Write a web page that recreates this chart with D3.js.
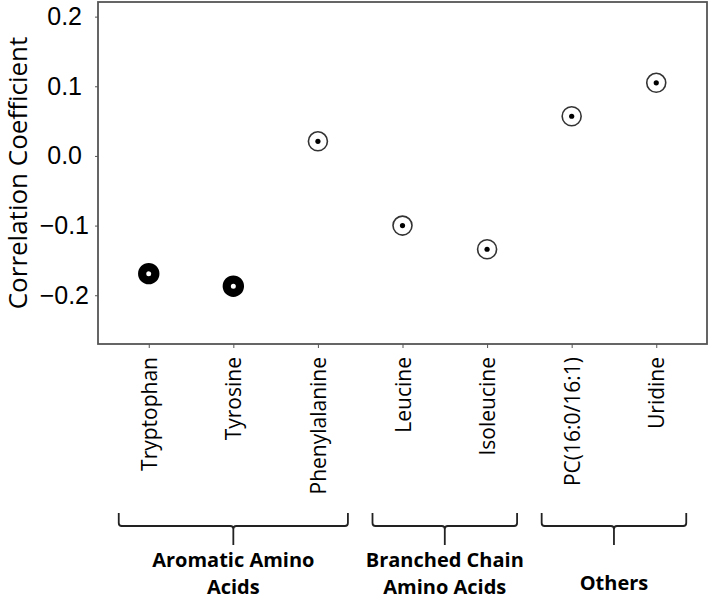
<!DOCTYPE html>
<html><head><meta charset="utf-8">
<script src="https://cdn.jsdelivr.net/npm/d3@7"></script>
<style>body{margin:0;background:#fff;} svg{display:block;}</style>
</head><body>
<svg id="c" width="709" height="600"></svg>
<script>
const categories = ["Tryptophan","Tyrosine","Phenylalanine","Leucine","Isoleucine","PC(16:0/16:1)","Uridine"];
const values = [-0.169, -0.187, 0.021, -0.100, -0.134, 0.057, 0.105];
const significant = [true, true, false, false, false, false, false];
const yTicks = [-0.2, -0.1, 0.0, 0.1, 0.2];
const groups = [
  {label: ["Aromatic Amino", "Acids"], from: 0, to: 2},
  {label: ["Branched Chain", "Amino Acids"], from: 3, to: 4},
  {label: ["Others"], from: 5, to: 6}
];
const yTitle = "Correlation Coefficient";

const svg = d3.select("#c");
const L = 98, R = 707, T = 2, B = 344;
const x = d3.scaleLinear().domain([-0.6, categories.length - 1 + 0.6]).range([L, R]);
const y = d3.scaleLinear().domain([-0.27, 0.221]).range([B, T]);

// frame
svg.append("rect").attr("x", L).attr("y", T).attr("width", R - L).attr("height", B - T)
  .attr("fill", "none").attr("stroke", "#555").attr("stroke-width", 1.8);

// y axis
const yAxis = svg.append("g").attr("transform", `translate(${L},0)`)
  .call(d3.axisLeft(y).tickValues(yTicks).tickSize(3).tickPadding(13)
    .tickFormat(d => d3.format(".1f")(d).replace("-", "\u2212")));
yAxis.select(".domain").remove();
yAxis.selectAll("line").attr("stroke", "#555");
yAxis.selectAll("text").attr("font-family", "Liberation Sans, Arial, sans-serif")
  .attr("font-size", 25).attr("fill", "#000")
  .attr("x", d => d < 0 ? -9 : -16);

// x axis
const xAxis = svg.append("g").attr("transform", `translate(0,${B})`)
  .call(d3.axisBottom(x).tickValues(d3.range(categories.length)).tickSize(4)
    .tickFormat(i => categories[i]));
xAxis.select(".domain").remove();
xAxis.selectAll("line").attr("stroke", "#555");
xAxis.selectAll("text")
  .attr("font-family", "Open Sans, sans-serif").attr("font-size", 21).attr("fill", "#000")
  .attr("transform", "rotate(-90)")
  .attr("text-anchor", "end").attr("x", -13).attr("y", 0).attr("dy", "0.36em");

// y title
svg.append("text").attr("transform", `translate(27,${(T + B) / 2}) rotate(-90)`)
  .attr("text-anchor", "middle")
  .attr("font-family", "Open Sans, sans-serif").attr("font-size", 26).attr("fill", "#000")
  .text(yTitle);

// points
const pts = svg.append("g");
categories.forEach((c, i) => {
  const cx = x(i), cy = y(values[i]);
  if (significant[i]) {
    pts.append("circle").attr("cx", cx).attr("cy", cy).attr("r", 6.6)
      .attr("fill", "none").attr("stroke", "#000").attr("stroke-width", 8.2);
  } else {
    pts.append("circle").attr("cx", cx).attr("cy", cy).attr("r", 9.5)
      .attr("fill", "none").attr("stroke", "#333").attr("stroke-width", 1.6);
    pts.append("circle").attr("cx", cx).attr("cy", cy).attr("r", 2.6).attr("fill", "#000");
  }
});

// brackets
const bTop = 513, bMid = 526, bBot = 545;
const bg = svg.append("g");
groups.forEach(g => {
  const x0 = x(g.from) - 30, x1 = x(g.to) + 30, xm = (x0 + x1) / 2;
  const p = d3.path();
  p.moveTo(x0, bTop);
  p.lineTo(x0, bMid - 3);
  p.quadraticCurveTo(x0, bMid, x0 + 3, bMid);
  p.lineTo(xm - 3, bMid);
  p.quadraticCurveTo(xm, bMid, xm, bMid + 3);
  p.lineTo(xm, bBot);
  p.moveTo(xm, bMid + 3);
  p.quadraticCurveTo(xm, bMid, xm + 3, bMid);
  p.lineTo(x1 - 3, bMid);
  p.quadraticCurveTo(x1, bMid, x1, bMid - 3);
  p.lineTo(x1, bTop);
  bg.append("path").attr("d", p.toString()).attr("fill", "none")
    .attr("stroke", "#222").attr("stroke-width", 1.8);
  const lines = g.label;
  const baseY = lines.length === 1 ? 590 : 567;
  lines.forEach((t, k) => {
    bg.append("text").attr("x", xm).attr("y", baseY + k * 27)
      .attr("text-anchor", "middle").attr("font-family", "Open Sans, sans-serif")
      .attr("font-weight", "bold").attr("font-size", 20).attr("fill", "#000").text(t);
  });
});
</script>
</body></html>
